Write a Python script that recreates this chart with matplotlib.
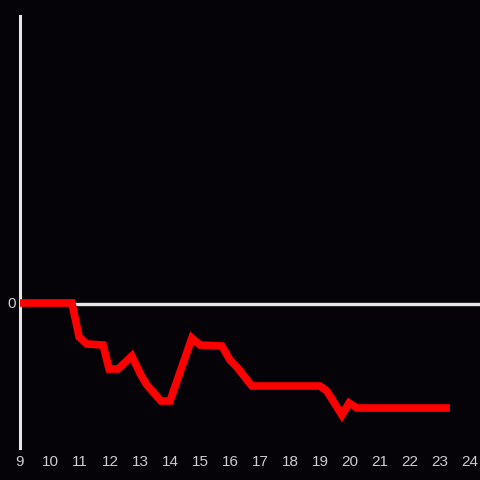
import matplotlib.pyplot as plt

# hours (x) and values (y)
hours = [9.0, 10.73, 10.97, 11.23, 11.77, 11.97, 12.27, 12.73, 13.03, 13.23,
         13.7, 14.0, 14.73, 15.0, 15.73, 16.0, 16.23, 16.73, 19.0, 19.23,
         19.73, 19.97, 20.23, 23.33]
values = [0.0, 0.0, -0.34, -0.41, -0.42, -0.66, -0.66, -0.53, -0.72, -0.82,
          -0.98, -0.98, -0.35, -0.42, -0.43, -0.57, -0.64, -0.83, -0.83, -0.88,
          -1.12, -1.0, -1.05, -1.05]
xticks = list(range(9, 25))

bg = "#050308"
fg = "#e6e6e6"

fig = plt.figure(figsize=(4.8, 4.8), dpi=100, facecolor=bg)
ax = fig.add_axes([20 / 480, 1 - 448 / 480, 1 - 20 / 480, 432 / 480])
ax.set_facecolor(bg)

ax.set_xlim(9, 9 + 460 / 30)
ax.set_ylim(-1.45, 2.87)

ax.axhline(-0.005, color=fg, lw=2.4, zorder=1)
ax.plot(hours, values, color="#ff0000", lw=5.5, solid_joinstyle="miter",
        solid_capstyle="butt", zorder=3, clip_on=False)

for s in ["top", "right", "bottom"]:
    ax.spines[s].set_visible(False)
ax.spines["left"].set_color(fg)
ax.spines["left"].set_linewidth(2.2)

ax.set_xticks(xticks)
ax.set_xticklabels([str(t) for t in xticks])
ax.set_yticks([0])
ax.set_yticklabels(["0"])
ax.tick_params(length=0, colors="#cccccc", labelsize=11)
ax.tick_params(axis="x", pad=5)
ax.tick_params(axis="y", pad=3)
for lab in ax.get_xticklabels() + ax.get_yticklabels():
    lab.set_family("Liberation Sans")

fig.savefig("out.png", dpi=100, facecolor=bg)
